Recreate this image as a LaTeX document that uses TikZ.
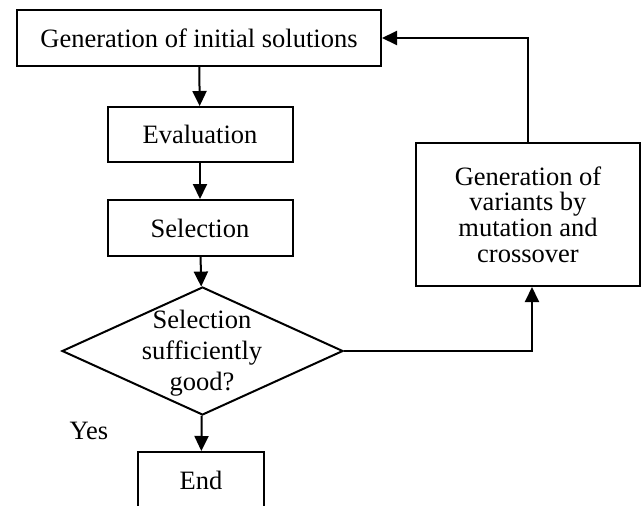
\documentclass[tikz,border=0pt]{standalone}
\usepackage{fontspec}
\setmainfont{Liberation Serif}
\usetikzlibrary{shapes.geometric,arrows.meta}

\begin{document}
\begin{tikzpicture}[
    x=1pt, y=1pt,
    >={Triangle[length=15pt,width=14pt]},
    every node/.style={font=\fontsize{26.5}{25.7}\selectfont},
    box/.style={draw, line width=2pt, inner sep=0pt},
    decision/.style={draw, diamond, line width=2pt, inner sep=0pt},
    flow/.style={->, line width=2pt}
  ]

  \useasboundingbox (0,0) rectangle (643,-506);

  % --- 1. main column ---
  \node[box, minimum width=364pt, minimum height=56pt] (init) at (199,-38) {Generation of initial solutions};
  \node[box, minimum width=185pt, minimum height=55pt] (eval) at (200,-134.5) {Evaluation};
  \node[box, minimum width=185pt, minimum height=56pt] (sel) at (200,-228) {Selection};

  % decision: shape and text kept apart so the diamond keeps its size
  \node[decision, minimum width=281pt, minimum height=128pt] (check) at (202.5,-351) {};
  \node[align=center, font=\fontsize{26.5}{31}\selectfont] (checktxt) at (202,-353) {Selection\\sufficiently\\good?};

  \node[box, minimum width=126pt, minimum height=56pt] (stop) at (201,-480) {End};
  \node (yes) at (89,-431) {Yes};

  % --- 2. loop back ---
  \node[box, minimum width=224pt, minimum height=143pt, align=center] (vari) at (528,-214.5)
    {Generation of\\variants by\\mutation and\\crossover};

  % --- 3. connectors ---
  \draw[flow] (init) -- (eval);
  \draw[flow] (eval) -- (sel);
  \draw[flow] (sel) -- (check);
  \draw[flow] (check) -- (stop);
  \draw[flow] (check.east) -| ([xshift=4pt]vari.south);
  \draw[flow] (vari.north) |- (init.east);

\end{tikzpicture}
\end{document}
